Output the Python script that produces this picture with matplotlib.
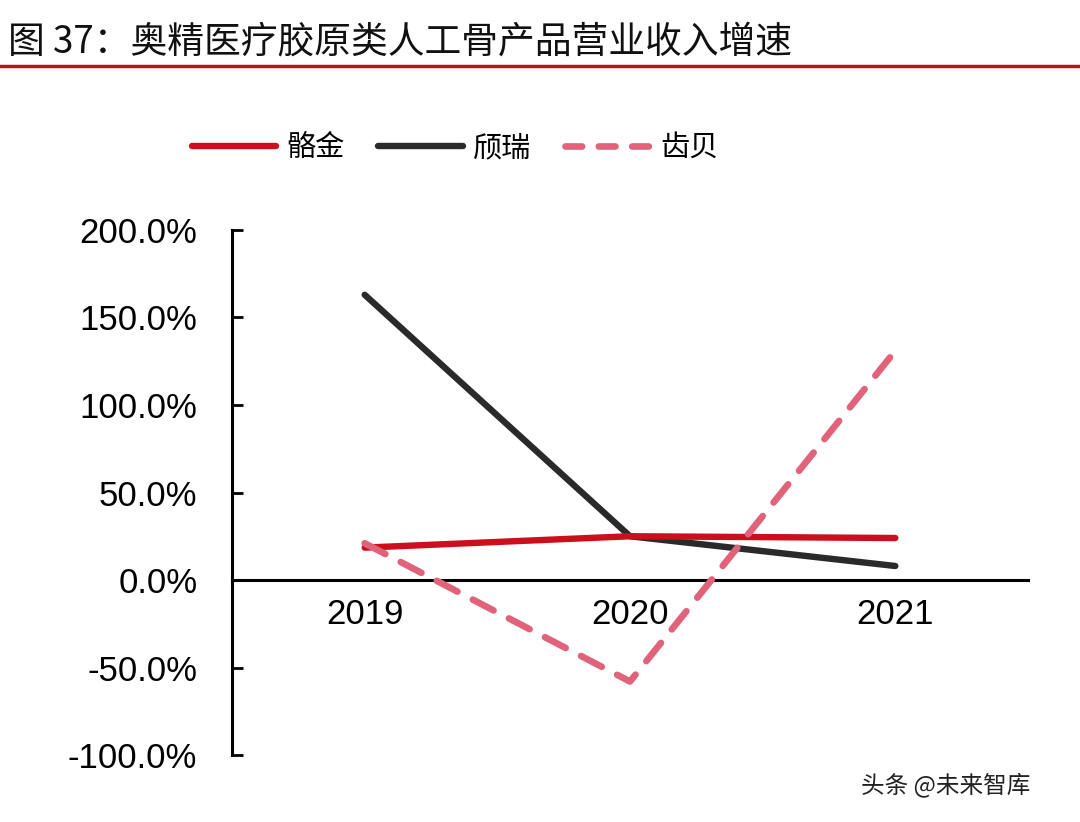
import matplotlib
matplotlib.use("Agg")
import matplotlib.pyplot as plt
from matplotlib.lines import Line2D

plt.rcParams['font.family'] = ['Liberation Sans', 'Noto Sans CJK SC', 'DejaVu Sans']

title = "图 37：奥精医疗胶原类人工骨产品营业收入增速"
years = ["2019", "2020", "2021"]
gejin = [18.5, 25.0, 24.0]      # 骼金
qirui = [163.0, 25.0, 8.0]      # 颀瑞
chibei = [21.0, -58.0, 131.0]   # 齿贝
series_names = ["骼金", "颀瑞", "齿贝"]
yticks = [-100, -50, 0, 50, 100, 150, 200]
ytick_labels = ["-100.0%", "-50.0%", "0.0%", "50.0%", "100.0%", "150.0%", "200.0%"]

fig = plt.figure(figsize=(10.8, 8.22), dpi=100)
ax = fig.add_axes([232/1080, 1-755/822, (1028-232)/1080, (755-230)/822])

x = list(range(len(years)))
l1, = ax.plot(x, gejin, color="#CC0F1C", lw=4.6, solid_capstyle="round", zorder=3)
l2, = ax.plot(x, qirui, color="#2A2A2A", lw=4.6, solid_capstyle="round", zorder=2)
l3, = ax.plot(x, chibei, color="#E0637A", lw=4.8, linestyle=(0, (3.5, 2.6)),
              dash_capstyle="round", zorder=4)
l3_proxy = Line2D([], [], color="#E0637A", lw=4.8, linestyle=(0, (2.5, 2.5)),
                  dash_capstyle="round")

ax.set_xlim(-0.5, 2.5)
ax.set_ylim(-100, 200)
ax.set_yticks(yticks)
ax.set_yticklabels(ytick_labels)
ax.set_xticks(x)
ax.set_xticklabels(years)

for s in ["top", "right"]:
    ax.spines[s].set_visible(False)
ax.spines["bottom"].set_position(("data", 0))
ax.spines["bottom"].set_linewidth(2.2)
ax.spines["left"].set_linewidth(2.2)
ax.tick_params(axis="y", direction="in", length=8, width=2, labelsize=25, pad=25)
ax.tick_params(axis="x", length=0, labelsize=25, pad=13)

leg = fig.legend([l1, l2, l3_proxy], series_names, loc="center",
                 bbox_to_anchor=(455/1080, 1-148/822), ncol=3, frameon=False,
                 handlelength=2.9, handletextpad=0.35, columnspacing=1.15,
                 prop={"family": ["Noto Sans CJK SC"], "size": 21})

fig.text(8/1080, 1-42/822, title, fontsize=26.5, va="center", ha="left",
         family=["Noto Sans CJK SC", "DejaVu Sans"], color="#111111")
fig.add_artist(Line2D([0, 1], [1-66/822, 1-66/822], color="#B8141C", lw=2.5))

fig.text(1030/1080, 1-785/822, "头条 @未来智库", fontsize=17, ha="right", va="center",
         family=["Noto Sans CJK SC", "DejaVu Sans"], color="#222222")

fig.savefig("out.png", dpi=100, facecolor="white")
